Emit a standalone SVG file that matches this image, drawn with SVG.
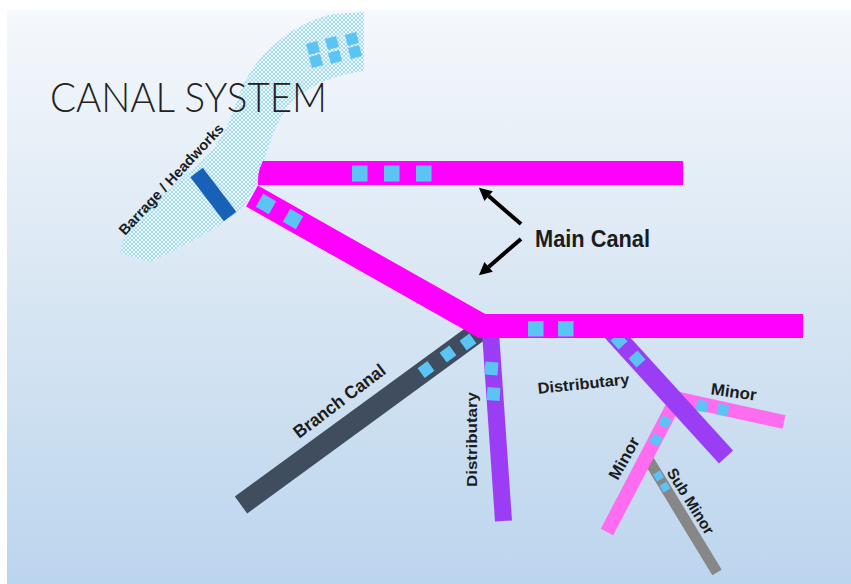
<svg xmlns="http://www.w3.org/2000/svg" xmlns:xlink="http://www.w3.org/1999/xlink" width="851" height="584" viewBox="0 0 851 584">
<defs>
<linearGradient id="bg" x1="0" y1="0" x2="0" y2="1">
<stop offset="0" stop-color="#f5f8fc"/>
<stop offset="0.5" stop-color="#d8e6f3"/>
<stop offset="1" stop-color="#bcd5ee"/>
</linearGradient>
<pattern id="hatch" width="4" height="4" patternUnits="userSpaceOnUse">
<rect width="4" height="4" fill="#eef8fc"/>
<path d="M0,0 L4,4 M4,0 L0,4" stroke="#96d6f0" stroke-width="0.85"/>
</pattern>
<marker id="ah" viewBox="0 0 10 10" refX="0" refY="5" markerWidth="3.5" markerHeight="3.2" orient="auto">
<path d="M0,0 L10,5 L0,10 Z" fill="#000"/>
</marker>
<rect id="sq" x="-0.5" y="-0.5" width="1" height="1"/>
</defs>
<style>
.sq{fill:#5cc4f4}
.canal{fill:none;stroke-linecap:butt;stroke-linejoin:miter}
.lbl{font-family:"Liberation Sans",Arial,sans-serif;font-weight:bold;fill:#1c1c1c}
.arrow{stroke:#000;stroke-width:4;fill:none;marker-end:url(#ah)}
</style>
<rect x="0" y="0" width="851" height="584" fill="#ffffff"/>
<rect x="7" y="10" width="844" height="574" fill="url(#bg)"/>

<g id="river">
<path d="M333,14 L364,12 L364,71 C332,75 302,88 287,108 C273,127 268,150 263,165 C258,185 248,205 230,218 C205,236 175,250 150,262 L120,253 C122,238 128,225 140,213 C160,195 185,175 205,158 C223,140 231,118 239,95 C250,62 285,25 333,14 Z" fill="url(#hatch)"/>
<g class="sq">
<use xlink:href="#sq" transform="translate(313,48) rotate(-15) scale(11.5)"/>
<use xlink:href="#sq" transform="translate(316,61) rotate(-15) scale(11.5)"/>
<use xlink:href="#sq" transform="translate(332,43) rotate(-15) scale(11.5)"/>
<use xlink:href="#sq" transform="translate(335,57) rotate(-15) scale(11.5)"/>
<use xlink:href="#sq" transform="translate(352,39) rotate(-15) scale(11.5)"/>
<use xlink:href="#sq" transform="translate(355,52) rotate(-15) scale(11.5)"/>
</g>
</g>

<g id="barrage">
<rect x="-27.6" y="-7.8" width="55.3" height="15.6" fill="#1761b9" transform="translate(213.3,194.5) rotate(52.7)"/>
</g>

<text id="title" x="50" y="112" font-family="Lato,'Open Sans','Liberation Sans',sans-serif" font-weight="300" font-size="42" fill="#222222" textLength="277" lengthAdjust="spacingAndGlyphs">CANAL SYSTEM</text>

<g id="branch-canal">
<line class="canal" x1="241" y1="505" x2="482" y2="329" stroke="#3f4d5e" stroke-width="21"/>
<g class="sq">
<use xlink:href="#sq" transform="translate(426,369.5) rotate(-36) scale(12)"/>
<use xlink:href="#sq" transform="translate(448,354) rotate(-36) scale(12)"/>
<use xlink:href="#sq" transform="translate(468,342) rotate(-36) scale(12)"/>
</g>
</g>

<g id="distributary-left">
<line class="canal" x1="490" y1="325" x2="503.5" y2="521" stroke="#9c3df6" stroke-width="17"/>
<g class="sq">
<use xlink:href="#sq" transform="translate(491.5,368.5) rotate(4) scale(13)"/>
<use xlink:href="#sq" transform="translate(493.5,394) rotate(4) scale(13)"/>
</g>
</g>

<g id="sub-minor">
<line class="canal" x1="645" y1="454" x2="717" y2="572.5" stroke="#878787" stroke-width="11"/>
<g class="sq">
<use xlink:href="#sq" transform="translate(658.5,476) rotate(59) scale(8)"/>
<use xlink:href="#sq" transform="translate(665,487) rotate(59) scale(8)"/>
</g>
</g>

<g id="minor-left">
<line class="canal" x1="676" y1="400" x2="607" y2="532" stroke="#ff6cf0" stroke-width="14"/>
<g class="sq">
<use xlink:href="#sq" transform="translate(665,422) rotate(-62) scale(10)"/>
<use xlink:href="#sq" transform="translate(656,440) rotate(-62) scale(10)"/>
</g>
</g>

<g id="minor-right">
<line class="canal" x1="675" y1="398" x2="784" y2="422" stroke="#ff6cf0" stroke-width="14"/>
<g class="sq">
<use xlink:href="#sq" transform="translate(702,406) rotate(12) scale(11)"/>
<use xlink:href="#sq" transform="translate(723,410) rotate(12) scale(11)"/>
</g>
</g>

<g id="distributary-right">
<line class="canal" x1="606" y1="325" x2="726" y2="457" stroke="#9c3df6" stroke-width="19"/>
<g class="sq">
<use xlink:href="#sq" transform="translate(619,341) rotate(48) scale(12)"/>
<use xlink:href="#sq" transform="translate(637,359) rotate(48) scale(12)"/>
</g>
</g>

<g id="main-canal-upper">
<path d="M263,161 L683,161 L683,185 L258,185 Q257,172 263,161 Z" fill="#ff00ff"/>
<rect class="sq" x="352" y="165.5" width="15.5" height="16"/>
<rect class="sq" x="384" y="165.5" width="15.5" height="16"/>
<rect class="sq" x="416" y="165.5" width="15.5" height="16"/>
</g>

<g id="main-canal-lower">
<polyline class="canal" points="252,196 482,326 803,326" stroke="#ff00ff" stroke-width="24"/>
<g class="sq">
<use xlink:href="#sq" transform="translate(266,204) rotate(29.5) scale(15)"/>
<use xlink:href="#sq" transform="translate(293,219) rotate(29.5) scale(15)"/>
</g>
<rect class="sq" x="528" y="321" width="15.5" height="15.5"/>
<rect class="sq" x="558" y="321" width="15.5" height="15.5"/>
</g>

<g id="connectors">
<line class="arrow" x1="521" y1="224" x2="488.6" y2="196.1"/>
<line class="arrow" x1="521" y1="239" x2="488.6" y2="266.9"/>
</g>

<g id="labels">
<text class="lbl" x="125" y="236" font-size="14.5" textLength="146" lengthAdjust="spacingAndGlyphs" transform="rotate(-47 125 236)">Barrage / Headworks</text>
<text class="lbl" x="535" y="247" font-size="23" textLength="115" lengthAdjust="spacingAndGlyphs">Main Canal</text>
<text class="lbl" x="343" y="406" font-size="18" text-anchor="middle" textLength="110" lengthAdjust="spacingAndGlyphs" transform="rotate(-37 343 406)">Branch Canal</text>
<text class="lbl" x="477" y="439.5" font-size="15.5" text-anchor="middle" textLength="95" lengthAdjust="spacingAndGlyphs" transform="rotate(-90 477 439.5)">Distributary</text>
<text class="lbl" x="584" y="389" font-size="15.5" text-anchor="middle" textLength="92" lengthAdjust="spacingAndGlyphs" transform="rotate(-6 584 389)">Distributary</text>
<text class="lbl" x="733" y="397.5" font-size="16.5" text-anchor="middle" textLength="46" lengthAdjust="spacingAndGlyphs" transform="rotate(8 733 397.5)">Minor</text>
<text class="lbl" x="629" y="461" font-size="16.5" text-anchor="middle" textLength="46" lengthAdjust="spacingAndGlyphs" transform="rotate(-61 629 461)">Minor</text>
<text class="lbl" x="686" y="504" font-size="15.5" text-anchor="middle" textLength="75" lengthAdjust="spacingAndGlyphs" transform="rotate(58 686 504)">Sub Minor</text>
</g>
</svg>
